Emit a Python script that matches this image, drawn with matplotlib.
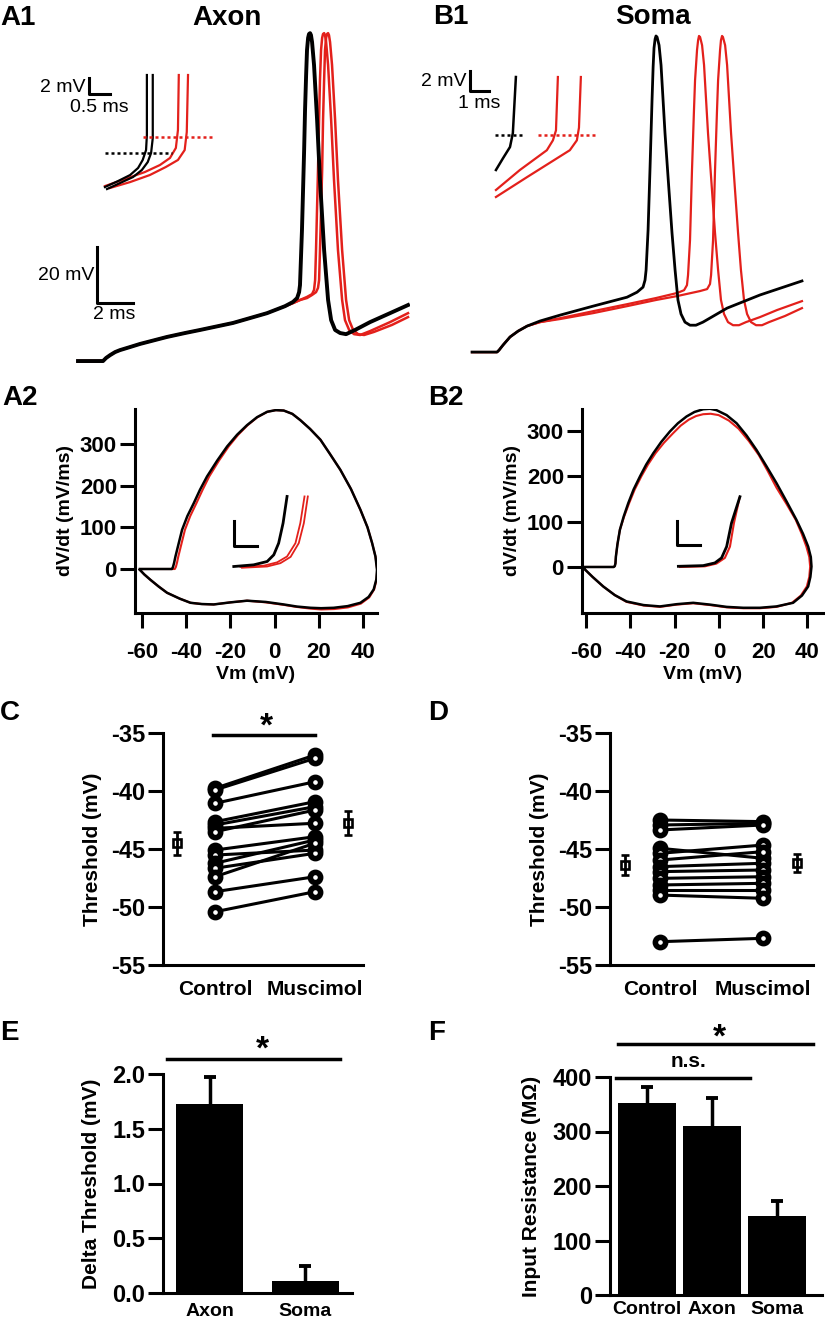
import matplotlib.pyplot as plt
import numpy as np

plt.rcParams['font.family'] = ['Liberation Sans', 'DejaVu Sans']
plt.rcParams['font.weight'] = 'bold'
plt.rcParams['axes.labelweight'] = 'bold'
plt.rcParams['axes.unicode_minus'] = False

W, H = 825, 1326
RED = '#e3201b'

# ---------------- A1: axon recording (ms, mV)
a1_ctrl_t = [0, 1.39, 1.56, 1.78, 2.06, 2.33, 2.89, 3.44, 4.28, 4.94, 5.94, 6.78, 8.61, 10.5, 11.5, 11.94, 12.17,
             12.28, 12.33, 12.44, 12.56, 12.61, 12.67, 12.72, 12.78, 12.83, 12.89, 12.94, 13.0, 13.11, 13.28, 13.44,
             13.67, 13.89, 14.06, 14.28, 14.56, 14.89, 15.39, 16.22, 17.33, 18.33]
a1_ctrl_v = [-63, -63, -61.9, -60.9, -59.8, -59.1, -58.0, -56.9, -55.5, -54.4, -53.0, -51.9, -49.4, -45.9, -43.4,
             -41.9, -40.5, -38.4, -35.9, -16.2, 12.4, 26.6, 39.1, 48.1, 52.4, 53.8, 54.1, 53.4, 50.9, 42.7, 23.1, 1.6,
             -23.4, -41.2, -48.4, -51.9, -53.0, -53.4, -51.9, -49.1, -45.9, -43.0]
a1_mus1_t = [0, 1.39, 1.56, 1.78, 2.06, 2.33, 2.89, 3.44, 4.28, 4.94, 5.94, 6.78, 8.61, 10.5, 11.5, 11.94, 12.33,
             12.72, 13.0, 13.11, 13.17, 13.22, 13.33, 13.39, 13.44, 13.5, 13.56, 13.61, 13.67, 13.72, 13.78, 13.89,
             14.06, 14.22, 14.44, 14.67, 14.83, 15.06, 15.33, 15.67, 16.22, 17.33, 18.33]
a1_mus1_v = [-63, -63, -61.9, -60.9, -59.8, -59.1, -58.0, -56.9, -55.5, -54.4, -53.0, -51.9, -49.4, -45.9, -43.4,
             -42.3, -41.2, -40.1, -39.1, -37.6, -34.1, -23.4, 5.2, 23.1, 37.4, 48.1, 52.4, 53.8, 54.1, 53.4, 50.9,
             42.7, 23.1, 1.6, -23.4, -41.2, -48.4, -51.9, -53.4, -53.7, -52.3, -49.1, -45.9]
a1_mus2_t = [0, 1.39, 1.56, 1.78, 2.06, 2.33, 2.89, 3.44, 4.28, 4.94, 5.94, 6.78, 8.61, 10.5, 11.5, 11.94, 12.33,
             12.72, 13.0, 13.22, 13.33, 13.39, 13.44, 13.56, 13.61, 13.67, 13.72, 13.78, 13.83, 13.89, 13.94, 14.0,
             14.11, 14.28, 14.44, 14.67, 14.89, 15.06, 15.28, 15.56, 15.89, 16.44, 17.44, 18.33]
a1_mus2_v = [-63, -63, -61.9, -60.9, -59.8, -59.1, -58.0, -56.9, -55.5, -54.4, -53.0, -51.9, -49.4, -45.9, -43.4,
             -42.3, -41.2, -40.5, -39.4, -38.4, -36.9, -34.1, -23.4, 5.2, 23.1, 37.4, 48.1, 52.4, 53.8, 54.1, 53.4,
             50.9, 42.7, 23.1, 1.6, -23.4, -41.2, -48.4, -51.9, -53.4, -53.7, -52.6, -50.1, -47.3]
# A1 inset (ms, mV relative)
a1i_ctrl1_t = [0, 0.31, 0.6, 0.79, 0.9, 0.98, 1.0, 1.0]
a1i_ctrl1_v = [0, 0.74, 1.5, 2.38, 3.38, 4.62, 6.5, 14.0]
a1i_ctrl2_t = [0.05, 0.36, 0.67, 0.88, 1.02, 1.1, 1.14, 1.14]
a1i_ctrl2_v = [-0.25, 0.5, 1.25, 2.13, 3.12, 4.25, 6.12, 14.0]
a1i_mus1_t = [0, 0.48, 0.95, 1.31, 1.55, 1.69, 1.74, 1.76]
a1i_mus1_v = [0.12, 1.0, 1.87, 2.75, 3.63, 4.88, 7.12, 14.0]
a1i_mus2_t = [0.12, 0.6, 1.07, 1.45, 1.74, 1.9, 1.95, 1.98]
a1i_mus2_v = [-0.12, 0.62, 1.5, 2.5, 3.38, 4.62, 6.87, 14.0]
a1i_thr_ctrl, a1i_thr_mus = 4.25, 6.25

# ---------------- B1: soma recording (ms, mV)
b1_ctrl_t = [0, 1.39, 1.5, 1.72, 2.11, 2.56, 3.06, 3.78, 4.89, 6.72, 8.61, 9.17, 9.5, 9.61, 9.67, 9.78, 9.89,
             10.0, 10.06, 10.11, 10.17, 10.22, 10.28, 10.39, 10.5, 10.72, 10.94, 11.11, 11.28, 11.44, 11.61, 11.83,
             12.11, 12.44, 12.83, 13.5, 14.17, 16.0, 18.33]
b1_ctrl_v = [-63, -63, -62.3, -60.5, -57.6, -55.5, -53.7, -51.9, -49.8, -46.6, -43.4, -41.6, -39.8, -37.3, -33.7,
             -19.4, 3.1, 27.0, 38.8, 45.6, 48.8, 49.9, 49.5, 46.6, 39.5, 15.2, -5.1, -20.5, -33.7, -44.4, -49.4,
             -52.3, -53.4, -53.4, -52.3, -49.8, -47.3, -42.6, -37.6]
b1_mus1_t = [0, 1.39, 1.5, 1.72, 2.11, 2.56, 3.06, 3.78, 4.89, 6.72, 8.61, 10.22, 11.39, 11.78, 11.94, 12.0,
             12.11, 12.22, 12.33, 12.39, 12.5, 12.56, 12.61, 12.67, 12.78, 12.89, 13.11, 13.33, 13.5, 13.67, 13.83,
             14.0, 14.22, 14.5, 14.83, 15.22, 16.0, 16.94, 18.33]
b1_mus1_v = [-63, -63, -62.3, -60.5, -57.6, -55.5, -53.7, -52.3, -50.9, -48.4, -45.9, -43.7, -41.9, -40.9, -39.1,
             -35.5, -23.0, 2.0, 23.4, 34.1, 44.9, 48.4, 49.9, 49.5, 46.6, 39.5, 15.2, -5.1, -20.5, -33.7, -44.4,
             -49.4, -52.3, -53.4, -53.4, -52.3, -50.5, -48.0, -44.8]
b1_mus2_t = [0, 1.39, 1.5, 1.72, 2.11, 2.56, 3.06, 3.78, 4.89, 6.72, 8.61, 10.22, 11.39, 12.67, 13.06, 13.22,
             13.28, 13.39, 13.5, 13.61, 13.67, 13.78, 13.83, 13.89, 13.94, 14.06, 14.17, 14.39, 14.61, 14.78, 14.94,
             15.11, 15.28, 15.5, 15.78, 16.11, 16.5, 17.39, 18.33]
b1_mus2_v = [-63, -63, -62.3, -60.5, -57.6, -55.5, -53.7, -52.3, -51.2, -49.1, -46.6, -44.4, -43.0, -41.2, -40.5,
             -38.7, -35.5, -23.0, 2.0, 23.4, 34.1, 44.9, 48.4, 49.9, 49.5, 46.6, 39.5, 15.2, -5.1, -20.5, -33.7,
             -44.4, -49.4, -52.3, -53.4, -53.4, -52.3, -50.1, -47.3]
b1i_ctrl_t = [0, 0.37, 0.74, 0.89, 1.05]
b1i_ctrl_v = [2.7, 3.87, 5.0, 6.39, 12.0]
b1i_mus1_t = [0, 1.26, 2.68, 3.0, 3.16, 3.26]
b1i_mus1_v = [0.7, 2.7, 4.68, 5.67, 6.66, 12.0]
b1i_mus2_t = [0, 1.63, 3.89, 4.26, 4.37, 4.47]
b1i_mus2_v = [0, 1.98, 4.68, 5.67, 6.93, 12.0]
b1i_thr = 6.2

# ---------------- A2 / B2 phase plots (Vm mV, dV/dt mV/ms)
a2_ctrl_vm = [-61, -46.5, -46, -45.5, -44.9, -43.5, -41.9, -39.5, -36.6, -33.8, -30.6, -26, -21.5, -17, -12.5, -8,
              -3.4, 0.5, 4.1, 8, 11.6, 16, 20.7, 25, 29.7, 34.5, 38.8, 42, 44.1, 45.6, 46.3, 46, 44.8, 42.5, 38.8,
              33, 26.7, 21, 16.2, 10, 4.1, -4, -12.5, -20, -27.6, -33, -38.1, -43, -48.7, -52.5, -56.2, -59, -61]
a2_ctrl_dv = [0, 0, 5, 15, 30, 60, 94, 127, 158, 190, 222, 260, 294, 322, 345, 364, 377, 381, 380, 372, 357, 336,
              310, 276, 238, 192, 142, 100, 62, 30, -2, -25, -49, -67, -81, -89, -93, -94, -93, -90, -85, -79, -76,
              -80, -85, -84, -81, -71, -57, -42, -26, -13, -2]
a2_mus_vm = [-61, -45.2, -44.7, -44.2, -43.6, -42.2, -40.6, -38.2, -35.4, -32.6, -29.6, -25.2, -20.8, -16.5, -12.2,
             -7.8, -3.3, 0.5, 4.1, 8, 11.6, 16, 20.7, 25, 29.7, 34.5, 38.8, 42, 44.1, 45.6, 46.4, 46.1, 45, 42.8, 39,
             33.2, 27, 21, 16.2, 10, 4.1, -4, -12.5, -20, -27.6, -33, -38.1, -43, -48.7, -52.5, -56.2, -59, -61]
a2_mus_dv = [0, 0, 5, 15, 30, 60, 94, 127, 158, 190, 222, 260, 294, 322, 345, 364, 377, 381, 380, 372, 357, 336,
             310, 276, 238, 192, 142, 100, 62, 30, -2, -25, -49, -68, -83, -92, -96, -97, -95, -91, -86, -80, -76,
             -80, -85, -84, -81, -71, -57, -42, -26, -13, -2]
a2i_ctrl_vm = [-18.5, -9.5, -3.4, -0.4, 1.8, 3.8, 5.6]
a2i_ctrl_dv = [6, 10, 18, 34, 62, 110, 174]
a2i_mus1_vm = [-15.5, -4.9, 1.1, 5.6, 9.4, 11.6, 13.5]
a2i_mus1_dv = [5, 8, 16, 30, 62, 110, 174]
a2i_mus2_vm = [-14.8, -3.4, 2.6, 7.2, 10.9, 13.2, 15.0]
a2i_mus2_dv = [3, 6, 14, 29, 62, 110, 174]

b2_ctrl_vm = [-61.5, -47.5, -47, -46.7, -46.5, -45.8, -44.7, -43, -40.9, -38.5, -35.6, -32.8, -29.6, -26, -22.1,
              -18.5, -14.6, -11, -7.1, -4, -1.1, 3.5, 8, 12.5, 17, 21.5, 26, 30.5, 35, 38, 40.3, 41.5, 41.8, 41.3,
              40.3, 37.5, 33.5, 26, 18.5, 11, 3.5, -4, -11.6, -19, -26.6, -34, -41.7, -47, -52.2, -57, -61.2]
b2_ctrl_dv = [0, 0, 2, 8, 23, 50, 82, 111, 141, 171, 200, 226, 251, 276, 299, 317, 332, 342, 348, 349, 346, 335,
              317, 290, 258, 222, 185, 145, 104, 73, 45, 22, 1, -22, -43, -63, -79, -87, -90, -90, -88, -83, -79,
              -82, -87, -84, -76, -62, -43, -22, -2]
b2_mus_vm = [-61.5, -47.5, -47, -46.7, -46.5, -45.8, -44.7, -42.8, -40.5, -38, -35, -32, -28.6, -24.8, -20.7,
             -17.2, -13.6, -10.3, -7.1, -3.7, -0.1, 4.5, 8.9, 13.5, 18, 22, 26, 30.4, 34.7, 37.4, 39.5, 40.8, 41.2,
             40.8, 39.7, 37, 33, 26, 18.5, 11, 3.5, -4, -11.6, -19, -26.6, -34, -41.7, -47, -52.2, -57, -61.2]
b2_mus_dv = [0, 0, 2, 8, 23, 50, 82, 111, 141, 171, 200, 226, 251, 274, 295, 312, 325, 333, 337, 338, 335, 323,
             305, 278, 247, 212, 175, 140, 104, 73, 45, 22, 1, -22, -43, -63, -79, -88, -91, -91, -89, -84, -80,
             -83, -88, -85, -77, -62, -43, -22, -2]
b2i_ctrl_vm = [-18.3, -7.1, -1.8, 1.2, 3.5, 5.7, 9.5]
b2i_ctrl_dv = [1.5, 3, 9, 20, 45, 97, 155]
b2i_mus_vm = [-17.6, -6.3, -1.1, 2.7, 5.0, 6.8, 9.3]
b2i_mus_dv = [0, 1.5, 7.5, 20, 45, 97, 152]

# ---------------- C / D thresholds (mV)
c_control = [-39.77, -39.91, -41.06, -42.65, -42.93, -43.22, -43.51, -45.09, -45.52, -46.23, -46.66, -47.39, -48.68, -50.41]
c_muscimol = [-36.9, -37.18, -39.2, -40.92, -41.35, -42.78, -41.64, -43.94, -45.09, -44.22, -45.37, -44.5, -47.39, -48.68]
c_mean = [-44.5, -42.75]
c_sem = [1.0, 1.05]
d_control = [-42.5, -42.93, -43.36, -44.94, -45.37, -45.95, -46.52, -46.95, -47.53, -48.1, -48.53, -48.97, -52.99]
d_muscimol = [-42.64, -42.79, -42.93, -45.8, -44.66, -45.23, -46.23, -46.81, -47.39, -47.96, -48.53, -49.25, -52.7]
d_mean = [-46.4, -46.2]
d_sem = [0.85, 0.8]

# ---------------- E / F bars
e_groups = ['Axon', 'Soma']
e_vals = [1.73, 0.11]
e_sem = [0.24, 0.14]
f_groups = ['Control', 'Axon', 'Soma']
f_vals = [352, 310, 145]
f_sem = [29, 52, 28]


def box(l, t, r, b):
    return [l / W, 1 - b / H, (r - l) / W, (b - t) / H]


def style(ax, tsize=16):
    for s in ['top', 'right']:
        ax.spines[s].set_visible(False)
    for s in ['left', 'bottom']:
        ax.spines[s].set_linewidth(2.2)
    ax.tick_params(width=2.2, length=11, labelsize=tsize, pad=2)


def label(x, y, s, size=20, **kw):
    fig.text(x / W, 1 - y / H, s, size=size, weight='bold', va='center', **kw)


def upper_err(ax, x, vals, sem):
    # one-sided error bars (only the top half shows above the bar)
    top = np.add(vals, sem)
    ax.vlines(x, vals, top, color='k', lw=2.5)
    ax.plot(x, top, ls='none', marker='_', ms=9, mew=2.8, color='k')


fig = plt.figure(figsize=(W / 100, H / 100), dpi=100)

# ---- A1
ax = fig.add_axes(box(60, 20, 410, 370))
ax.plot(a1_mus1_t, a1_mus1_v, color=RED, lw=1.8)
ax.plot(a1_mus2_t, a1_mus2_v, color=RED, lw=1.8)
ax.plot(a1_ctrl_t, a1_ctrl_v, color='k', lw=2.8)
ax.plot([1.06, 1.06, 3.06], [-22.3, -42.3, -42.3], color='k', lw=2.2)
ax.text(0.9, -32.6, '20 mV', ha='right', va='center', size=14, weight='normal')
ax.text(2.03, -43.5, '2 ms', ha='center', va='top', size=14, weight='normal')
ax.set_xlim(-1.0, 18.44)
ax.set_ylim(-66.2, 58.8)
ax.axis('off')

ax = fig.add_axes(box(60, 60, 230, 200))
ax.plot(a1i_mus1_t, a1i_mus1_v, color=RED, lw=1.6)
ax.plot(a1i_mus2_t, a1i_mus2_v, color=RED, lw=1.6)
ax.plot(a1i_ctrl1_t, a1i_ctrl1_v, color='k', lw=1.6)
ax.plot(a1i_ctrl2_t, a1i_ctrl2_v, color='k', lw=1.6)
ax.plot([0, 1.6], [a1i_thr_ctrl] * 2, color='k', lw=1.8, ls=(0, (1.2, 1.2)))
ax.plot([0.9, 2.55], [a1i_thr_mus] * 2, color=RED, lw=1.8, ls=(0, (1.2, 1.2)))
ax.plot([-0.38, -0.38, 0.12], [13.62, 11.62, 11.62], color='k', lw=2.2)
ax.text(-0.47, 12.5, '2 mV', ha='right', va='center', size=14, weight='normal')
ax.text(-0.14, 9.9, '0.5 ms', ha='center', va='center', size=14, weight='normal')
ax.set_xlim(-1.07, 2.98)
ax.set_ylim(-1.62, 15.875)
ax.axis('off')

# ---- B1
ax = fig.add_axes(box(460, 20, 825, 370))
ax.plot(b1_mus1_t, b1_mus1_v, color=RED, lw=1.6)
ax.plot(b1_mus2_t, b1_mus2_v, color=RED, lw=1.6)
ax.plot(b1_ctrl_t, b1_ctrl_v, color='k', lw=2.0)
ax.set_xlim(-0.67, 19.61)
ax.set_ylim(-69.4, 55.6)
ax.axis('off')

ax = fig.add_axes(box(400, 60, 620, 210))
ax.plot(b1i_mus1_t, b1i_mus1_v, color=RED, lw=1.6)
ax.plot(b1i_mus2_t, b1i_mus2_v, color=RED, lw=1.6)
ax.plot(b1i_ctrl_t, b1i_ctrl_v, color='k', lw=1.8)
ax.plot([-0.05, 1.42], [b1i_thr] * 2, color='k', lw=1.8, ls=(0, (1.2, 1.2)))
ax.plot([2.21, 5.37], [b1i_thr] * 2, color=RED, lw=1.8, ls=(0, (1.2, 1.2)))
ax.plot([-1.37, -1.37, -0.37], [12.6, 10.6, 10.6], color='k', lw=2.2)
ax.text(-1.55, 11.5, '2 mV', ha='right', va='center', size=14, weight='normal')
ax.text(-0.89, 9.3, '1 ms', ha='center', va='center', size=14, weight='normal')
ax.set_xlim(-5.05, 6.53)
ax.set_ylim(-1.3, 13.7)
ax.axis('off')

# ---- A2
ax = fig.add_axes(box(135, 409, 377, 613))
ax.plot(a2_mus_vm, a2_mus_dv, color=RED, lw=1.5)
ax.plot(a2_ctrl_vm, a2_ctrl_dv, color='k', lw=1.8)
ax.plot(a2i_mus1_vm, a2i_mus1_dv, color=RED, lw=1.3)
ax.plot(a2i_mus2_vm, a2i_mus2_dv, color=RED, lw=1.3)
ax.plot(a2i_ctrl_vm, a2i_ctrl_dv, color='k', lw=2.0)
ax.plot([-18.5, -18.5, -8.0], [114, 54, 54], color='k', lw=2.2)
ax.set_xlim(-63.2, 46.3)
ax.set_ylim(-105.5, 383.7)
ax.set_xticks([-60, -40, -20, 0, 20, 40])
ax.set_yticks([0, 100, 200, 300])
style(ax)
ax.tick_params(axis='x', pad=10)
ax.set_xlabel('Vm (mV)', size=14, labelpad=2)
ax.set_ylabel('dV/dt (mV/ms)', size=14, labelpad=4)

# ---- B2
ax = fig.add_axes(box(582, 409, 823, 613))
ax.plot(b2_mus_vm, b2_mus_dv, color=RED, lw=1.5)
ax.plot(b2_ctrl_vm, b2_ctrl_dv, color='k', lw=1.8)
ax.plot(b2i_mus_vm, b2i_mus_dv, color=RED, lw=1.5)
ax.plot(b2i_ctrl_vm, b2i_ctrl_dv, color='k', lw=2.0)
ax.plot([-19.1, -19.1, -8.6], [100.5, 49, 49], color='k', lw=2.2)
ax.set_xlim(-61.8, 47)
ax.set_ylim(-101.5, 348.5)
ax.set_xticks([-60, -40, -20, 0, 20, 40])
ax.set_yticks([0, 100, 200, 300])
style(ax)
ax.tick_params(axis='x', pad=10)
ax.set_xlabel('Vm (mV)', size=14, labelpad=2)
ax.set_ylabel('dV/dt (mV/ms)', size=14, labelpad=4)


# ---- C / D
def paired(ax, ctrl, mus, mean, sem, mx):
    for c, m in zip(ctrl, mus):
        ax.plot([0, 1], [c, m], color='k', lw=2.2, marker='o', ms=7.4, mfc='white', mec='k', mew=4.0,
                clip_on=False, zorder=3)
    ax.errorbar(mx, mean, yerr=sem, fmt='s', ms=6.2, mfc='none', mec='k', mew=1.9, ecolor='k',
                elinewidth=2, capsize=3.2, capthick=2, clip_on=False)
    ax.set_ylim(-55, -35)
    ax.set_yticks([-55, -50, -45, -40, -35])
    ax.set_xticks([0, 1], ['Control', 'Muscimol'])
    style(ax, tsize=17)
    ax.tick_params(axis='x', length=0, pad=11, labelsize=15)
    ax.set_ylabel('Threshold (mV)', size=15, labelpad=6)


ax = fig.add_axes(box(163, 733, 363, 965))
ax.set_xlim(-0.52, 1.48)
paired(ax, c_control, c_muscimol, c_mean, c_sem, [-0.38, 1.33])
ax.plot([-0.02, 1.0], [-35.17, -35.17], color='k', lw=2.5, clip_on=False)
ax.text(0.51, -34.5, '*', ha='center', va='center', size=24)

ax = fig.add_axes(box(610, 733, 813, 965))
ax.set_xlim(-0.485, 1.485)
paired(ax, d_control, d_muscimol, d_mean, d_sem, [-0.34, 1.33])

# ---- E
ax = fig.add_axes(box(163, 1074, 352, 1293))
ex = np.arange(len(e_groups))
ax.bar(ex, e_vals, width=0.7, color='k')
upper_err(ax, ex, e_vals, e_sem)
ax.set_xlim(-0.487, 1.49)
ax.set_ylim(0, 2.0)
ax.set_yticks([0, 0.5, 1.0, 1.5, 2.0], ['0.0', '0.5', '1.0', '1.5', '2.0'])
ax.set_xticks(ex, e_groups)
style(ax, tsize=17)
ax.tick_params(axis='x', length=0, pad=7, labelsize=14)
ax.set_ylabel('Delta Threshold (mV)', size=15, labelpad=8)
ax.plot([-0.445, 1.366], [2.137, 2.137], color='k', lw=2.5, clip_on=False)
ax.text(0.55, 2.22, '*', ha='center', va='center', size=24)

# ---- F
ax = fig.add_axes(box(610, 1077, 822, 1295))
fx = np.arange(len(f_groups))
ax.bar(fx, f_vals, width=0.9, color='k')
upper_err(ax, fx, f_vals, f_sem)
ax.set_xlim(-0.57, 2.69)
ax.set_ylim(0, 400)
ax.set_yticks([0, 100, 200, 300, 400])
ax.set_xticks(fx, f_groups)
style(ax, tsize=17)
ax.tick_params(axis='x', length=0, pad=4, labelsize=14)
ax.set_ylabel('Input Resistance (M\u03a9)', size=15, labelpad=8)
ax.plot([-0.45, 2.55], [460, 460], color='k', lw=2.5, clip_on=False)
ax.text(1.12, 472, '*', ha='center', va='center', size=24)
ax.plot([-0.48, 1.58], [398, 398], color='k', lw=2.5, clip_on=False)
ax.text(0.63, 428, 'n.s.', ha='center', va='center', size=15)

# ---- panel letters and titles
label(0, 18, 'A1')
label(227, 18, 'Axon', ha='center')
label(433, 17, 'B1')
label(653, 17, 'Soma', ha='center')
label(2, 398, 'A2')
label(428, 398, 'B2')
label(0, 713, 'C')
label(428, 713, 'D')
label(0, 1033, 'E')
label(428, 1033, 'F')

fig.savefig('out.png', dpi=100)
